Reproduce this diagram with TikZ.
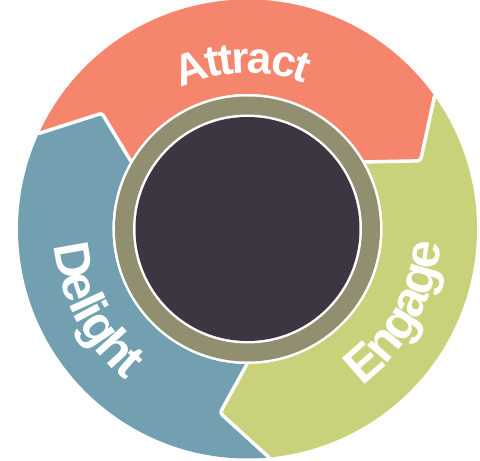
\documentclass[tikz,border=0pt]{standalone}
\usepackage{fontspec}
\setmainfont{Liberation Sans}
\usetikzlibrary{calc,decorations.text}

\definecolor{attractred}{HTML}{F6856E}
\definecolor{engagegreen}{HTML}{C9D27A}
\definecolor{delightblue}{HTML}{72A0B0}
\definecolor{hubolive}{HTML}{928F71}
\definecolor{hubdark}{HTML}{3E3542}

\newcommand\topfont{\bfseries\fontsize{44}{44}\selectfont}
\newcommand\sidefont{\bfseries\fontsize{50}{50}\selectfont}

\begin{document}
\begin{tikzpicture}[x=1pt, y=1pt, line cap=round,
    edge/.style={draw=white, line width=3.5},
    words/.style n args={3}{decorate, decoration={text effects along path, text={#1}, text align=center,
      text effects/.cd, text along path, characters={text=white, font=#2},
      character widths={inner xsep=#3, font=#2}}}]
  \useasboundingbox (-247.5, -232) rectangle (232.5, 229);
  \coordinate (O) at (0, 0);
  \def\R{229.5}
  \def\r{135}
  % Arrow ends: outer corner, tip, inner corner.
  \coordinate (oA) at (35.4:\R);   \coordinate (tA) at (21.5:186);   \coordinate (iA) at (29.8:\r);
  \coordinate (oE) at (-84.6:\R);  \coordinate (tE) at (-98.5:186);  \coordinate (iE) at (-90.2:\r);
  \coordinate (oD) at (155.4:\R);  \coordinate (tD) at (141.5:186);  \coordinate (iD) at (149.8:\r);
  % Where the rounded tips start and stop.
  \coordinate (tA1) at ($(tA)!7pt!(oA)$); \coordinate (tA2) at ($(tA)!7pt!(iA)$);
  \coordinate (tE1) at ($(tE)!7pt!(oE)$); \coordinate (tE2) at ($(tE)!7pt!(iE)$);
  \coordinate (tD1) at ($(tD)!7pt!(oD)$); \coordinate (tD2) at ($(tD)!7pt!(iD)$);
  % Attract.
  \fill[attractred] (oD) arc[start angle=155.4, end angle=35.4, radius=\R]
    -- (tA1) .. controls (tA) .. (tA2) -- (iA)
    arc[start angle=29.8, end angle=149.8, radius=\r]
    -- (tD2) .. controls (tD) .. (tD1) -- cycle;
  % Engage.
  \fill[engagegreen] (oA) arc[start angle=35.4, end angle=-84.6, radius=\R]
    -- (tE1) .. controls (tE) .. (tE2) -- (iE)
    arc[start angle=-90.2, end angle=29.8, radius=\r]
    -- (tA2) .. controls (tA) .. (tA1) -- cycle;
  % Delight.
  \fill[delightblue] (oE) arc[start angle=-84.6, end angle=-204.6, radius=\R]
    -- (tD1) .. controls (tD) .. (tD2) -- (iD)
    arc[start angle=-210.2, end angle=-90.2, radius=\r]
    -- (tE2) .. controls (tE) .. (tE1) -- cycle;
  % White seams.
  \draw[edge] (oA) -- (tA1) .. controls (tA) .. (tA2) -- (iA);
  \draw[edge] (oE) -- (tE1) .. controls (tE) .. (tE2) -- (iE);
  \draw[edge] (oD) -- (tD1) .. controls (tD) .. (tD2) -- (iD);
  % Hub.
  \fill[white] (O) circle[radius=\r];
  \fill[hubolive] (O) circle[radius=132.5];
  \fill[white] (O) circle[radius=114.5];
  \fill[hubdark] (O) circle[radius=112];
  % Labels.
  \path[words={Attract}{\topfont}{-1.2pt}]
    (152:156) arc[start angle=152, end angle=32, radius=156];
  \path[words={Engage}{\sidefont}{-1.3pt}]
    (-71:194) arc[start angle=-71, end angle=13, radius=194];
  \path[words={Delight}{\sidefont}{-1pt}]
    (166:194) arc[start angle=166, end angle=250, radius=194];
\end{tikzpicture}
\end{document}
